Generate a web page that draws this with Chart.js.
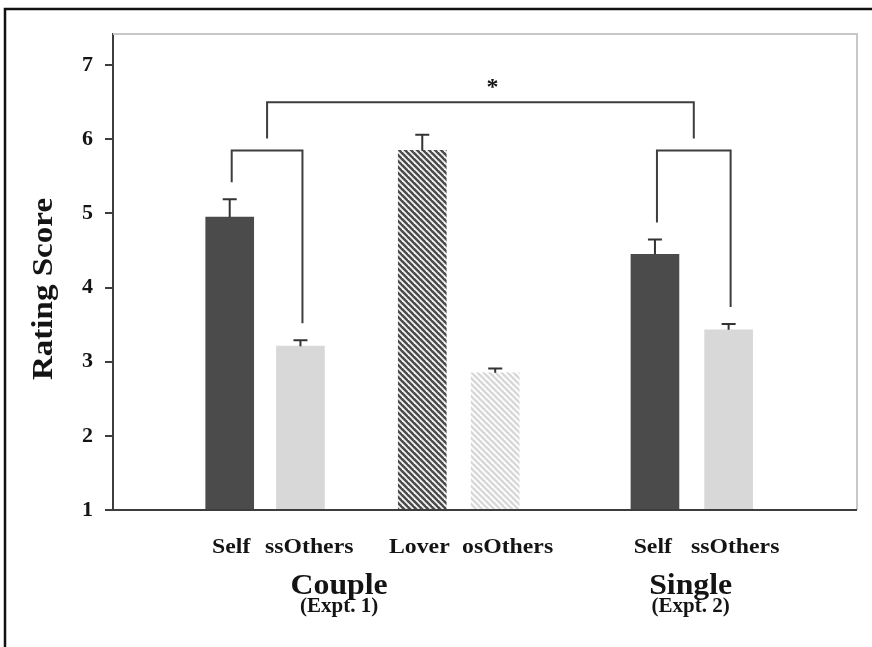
<!DOCTYPE html>
<html>
<head>
<meta charset="utf-8">
<script src="https://cdn.jsdelivr.net/npm/chart.js@4/dist/chart.umd.min.js"></script>
<style>
  html, body { margin: 0; padding: 0; background: #fff; }
  #wrap { width: 872px; height: 647px; }
</style>
</head>
<body>
<div id="wrap"><canvas id="chart" width="872" height="647"></canvas></div>
<script>
// data
const categories = ['Self', 'ssOthers', 'Lover', 'osOthers', 'Self', 'ssOthers'];
const groups = ['Couple', 'Single'];
const groupNotes = ['(Expt. 1)', '(Expt. 2)'];
const means = [4.95, 3.21, 5.85, 2.85, 4.45, 3.43];
const errors = [0.24, 0.08, 0.21, 0.06, 0.20, 0.08];
const yTicks = [1, 2, 3, 4, 5, 6, 7];

// layout (x in axis units, not data)
const xPos = [1.6, 2.57, 4.24, 5.24, 7.43, 8.44];
const labelPos = [1.62, 2.69, 4.2, 5.41, 7.4, 8.53];
const groupPos = [3.1, 7.92];
const pairBrackets = [[0, 1], [4, 5]];
const pairLevel = 5.85;
const mainLevel = 6.5;

const SERIF = '"Liberation Serif", "DejaVu Serif", serif';
const INK = '#141414';
const LINE = '#3d3d3d';

function stripes(base, line) {
  const s = 6;
  const c = document.createElement('canvas');
  c.width = s; c.height = s;
  const g = c.getContext('2d');
  g.fillStyle = base;
  g.fillRect(0, 0, s, s);
  g.strokeStyle = line;
  g.lineWidth = 1.8;
  [-s, 0, s].forEach(ox => {
    g.beginPath();
    g.moveTo(ox - 1, -1);
    g.lineTo(ox + s + 1, s + 1);
    g.stroke();
  });
  return g.createPattern(c, 'repeat');
}

const dark = '#4b4b4b';
const light = '#d8d8d8';
const colors = [dark, light, stripes('#4b4b4b', '#f4f4f4'), stripes('#d8d8d8', '#ffffff'), dark, light];

function txt(ctx, s, x, y, size, sx, align) {
  ctx.save();
  ctx.translate(x, y);
  ctx.scale(sx, 1);
  ctx.font = 'bold ' + size + 'px ' + SERIF;
  ctx.fillStyle = INK;
  ctx.textAlign = align || 'center';
  ctx.textBaseline = 'alphabetic';
  ctx.fillText(s, 0, 0);
  ctx.restore();
}

const decor = {
  id: 'decor',
  beforeDraw(chart) {
    const ctx = chart.ctx;
    ctx.save();
    ctx.fillStyle = '#fff';
    ctx.fillRect(0, 0, chart.width, chart.height);
    // outer black frame (top + left)
    ctx.strokeStyle = '#111';
    ctx.lineWidth = 2.5;
    ctx.beginPath();
    ctx.moveTo(5, chart.height);
    ctx.lineTo(5, 9);
    ctx.lineTo(chart.width, 9);
    ctx.stroke();
    ctx.restore();
  },
  afterDatasetsDraw(chart) {
    const ctx = chart.ctx;
    const a = chart.chartArea;
    const xs = chart.scales.x, ys = chart.scales.y;
    const bars = chart.getDatasetMeta(0).data;
    ctx.save();

    // light frame top/right
    ctx.strokeStyle = '#c8c8c8';
    ctx.lineWidth = 2;
    ctx.beginPath();
    ctx.moveTo(a.left, a.top);
    ctx.lineTo(a.right, a.top);
    ctx.lineTo(a.right, a.bottom);
    ctx.stroke();

    // bottom axis
    ctx.strokeStyle = LINE;
    ctx.beginPath();
    ctx.moveTo(a.left, a.bottom);
    ctx.lineTo(a.right, a.bottom);
    ctx.stroke();

    // error bars
    const errTop = [];
    ctx.strokeStyle = '#333';
    ctx.lineWidth = 2;
    bars.forEach((b, i) => {
      const top = ys.getPixelForValue(means[i] + errors[i]);
      errTop.push(top);
      ctx.beginPath();
      ctx.moveTo(b.x, b.y);
      ctx.lineTo(b.x, top);
      ctx.moveTo(b.x - 7, top);
      ctx.lineTo(b.x + 7, top);
      ctx.stroke();
    });

    // significance brackets
    ctx.strokeStyle = LINE;
    const py = ys.getPixelForValue(pairLevel);
    const my = ys.getPixelForValue(mainLevel);
    const mids = [];
    pairBrackets.forEach(([i, j]) => {
      const x1 = bars[i].x + 2, x2 = bars[j].x + 2;
      ctx.beginPath();
      ctx.moveTo(x1, errTop[i] - 17);
      ctx.lineTo(x1, py);
      ctx.lineTo(x2, py);
      ctx.lineTo(x2, errTop[j] - 17);
      ctx.stroke();
      mids.push((x1 + x2) / 2);
    });
    ctx.beginPath();
    ctx.moveTo(mids[0], py - 12);
    ctx.lineTo(mids[0], my);
    ctx.lineTo(mids[1], my);
    ctx.lineTo(mids[1], py - 12);
    ctx.stroke();
    txt(ctx, '*', (mids[0] + mids[1]) / 2 + 12, my - 8, 24, 1, 'center');

    // category labels
    categories.forEach((c, i) => {
      txt(ctx, c, xs.getPixelForValue(labelPos[i]), 553, 22, 1.08);
    });
    groups.forEach((g, i) => {
      const x = xs.getPixelForValue(groupPos[i]);
      txt(ctx, g, x, 594, 30, 1.06);
      txt(ctx, groupNotes[i], x, 612, 21, 1.0);
    });

    // y title
    ctx.save();
    ctx.translate(52, 289);
    ctx.rotate(-Math.PI / 2);
    txt(ctx, 'Rating Score', 0, 0, 29, 1.14);
    ctx.restore();

    ctx.restore();
  }
};

new Chart(document.getElementById('chart'), {
  type: 'bar',
  data: {
    datasets: [{
      data: xPos.map((x, i) => ({ x: x, y: means[i] })),
      backgroundColor: colors,
      borderWidth: 0,
      barThickness: 48
    }]
  },
  options: {
    responsive: false,
    animation: false,
    layout: { padding: { top: 34, right: 15, bottom: 137, left: 0 } },
    plugins: { legend: { display: false }, tooltip: { enabled: false } },
    scales: {
      x: {
        type: 'linear',
        min: 0,
        max: 10.2,
        offset: false,
        display: false
      },
      y: {
        min: 1,
        max: 7.42,
        afterBuildTicks(s) { s.ticks = yTicks.map(v => ({ value: v })); },
        afterFit(s) { s.width = 113; },
        grid: { drawOnChartArea: false, tickLength: 8, color: LINE, lineWidth: 2 },
        border: { color: LINE, width: 2 },
        ticks: {
          padding: 12,
          color: INK,
          font: { family: SERIF, size: 22, weight: 'bold' }
        }
      }
    }
  },
  plugins: [decor]
});
</script>
</body>
</html>
